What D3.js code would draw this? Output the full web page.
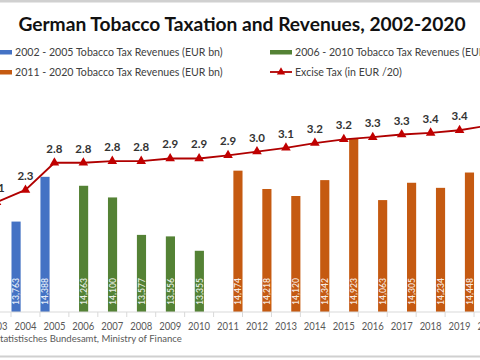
<!DOCTYPE html>
<html><head><meta charset="utf-8">
<script src="https://cdn.jsdelivr.net/npm/d3@7"></script>
<style>html,body{margin:0;padding:0;background:#fff;overflow:hidden}svg{display:block}</style>
</head><body>
<script>
const years = ["2002","2003","2004","2005","2006","2007","2008","2009","2010","2011","2012","2013","2014","2015","2016","2017","2018","2019","2020"];
const revenues = [13.778,14.094,13.763,14.388,14.263,14.100,13.577,13.556,13.355,14.474,14.218,14.120,14.342,14.923,14.063,14.305,14.234,14.448,14.651];
const revLabels = ["13,778","14,094","13,763","14,388","14,263","14,100","13,577","13,556","13,355","14,474","14,218","14,120","14,342","14,923","14,063","14,305","14,234","14,448","14,651"];
const periodOf = ["A","A","A","A","B","B","B","B","B","C","C","C","C","C","C","C","C","C","C"];
const seriesKeys = ["A","B","C"];
const seriesNames = ["2002 - 2005 Tobacco Tax Revenues (EUR bn)","2006 - 2010 Tobacco Tax Revenues (EUR bn)","2011 - 2020 Tobacco Tax Revenues (EUR bn)"];
const exciseTax = [1.92,2.06,2.29,2.80,2.80,2.83,2.83,2.88,2.88,2.94,3.01,3.08,3.17,3.24,3.28,3.33,3.36,3.41,3.50];
const exciseLabels = ["1.9","2.1","2.3","2.8","2.8","2.8","2.8","2.9","2.9","2.9","3.0","3.1","3.2","3.2","3.3","3.3","3.4","3.4","3.5"];
const lineName = "Excise Tax (in EUR /20)";
const title = "German Tobacco Taxation and Revenues, 2002-2020";
const sourcePrefix = "Source: S";
const sourceRest = "tatistisches Bundesamt, Ministry of Finance";

const W = 480, H = 360;
const colors = {A:"#4472C4", B:"#548235", C:"#C55A11"};
const lineColor = "#B00000";
const font = "Lato, 'Open Sans', sans-serif";

const svg = d3.select("body").append("svg").attr("width", W).attr("height", H);
svg.append("rect").attr("width", W).attr("height", H).attr("fill", "#fff");
svg.append("rect").attr("x",0).attr("y",0).attr("width",W).attr("height",2.5).attr("fill","#d0d0d0");
svg.append("rect").attr("x",0).attr("y",355.5).attr("width",W).attr("height",2).attr("fill","#d0d0d0");

const plotTop = 80, baseY = 312;
const x = d3.scaleBand().domain(years).range([11 - 2*28.94, 11 + 17*28.94]).paddingInner(0).paddingOuter(0);
const xs = d3.scaleBand().domain(seriesKeys).range([0, x.bandwidth()]).padding(0);
const y = d3.scaleLinear().domain([12.5, 12.5 + (baseY - plotTop)/71.6]).range([baseY, plotTop]);
const y2 = d3.scaleLinear().domain([0, (baseY - plotTop)/53.3]).range([baseY, plotTop]);

// Title
svg.append("text").attr("x", 242).attr("y", 31).attr("text-anchor","middle")
  .attr("font-family", font).attr("font-weight","bold").attr("font-size", 19.2).attr("fill","#111")
  .text(title);

// Legend
const leg = [
  {x:-10, y:52, type:"bar", color:colors.A, label:seriesNames[0]},
  {x:270, y:52, type:"bar", color:colors.B, label:seriesNames[1]},
  {x:-10, y:72, type:"bar", color:colors.C, label:seriesNames[2]},
  {x:270, y:72, type:"line", color:lineColor, label:lineName}
];
leg.forEach(d => {
  const g = svg.append("g");
  if (d.type === "bar") {
    g.append("rect").attr("x", d.x).attr("y", d.y - 2).attr("width", 22).attr("height", 4.5).attr("fill", d.color);
  } else {
    g.append("line").attr("x1", d.x).attr("x2", d.x + 22).attr("y1", d.y).attr("y2", d.y).attr("stroke", d.color).attr("stroke-width", 1.8);
    g.append("path").attr("d", d3.symbol(d3.symbolTriangle, 30)()).attr("transform", `translate(${d.x + 11},${d.y})`).attr("fill", "#C00000");
  }
  g.append("text").attr("x", d.x + 25).attr("y", d.y + 4).attr("font-family", font).attr("font-size", 10.6).attr("fill", "#404040").text(d.label);
});

// Bars
const bars = svg.append("g");
years.forEach((yr, i) => {
  const bx = x(yr) + xs(periodOf[i]);
  const bw = xs.bandwidth();
  bars.append("rect").attr("x", bx + 0.5).attr("y", y(revenues[i])).attr("width", bw - 0.5)
    .attr("height", baseY - y(revenues[i])).attr("fill", colors[periodOf[i]]);
  bars.append("text").attr("transform", `translate(${bx + bw/2 + 3.5},${baseY - 7}) rotate(-90)`)
    .attr("font-family", font).attr("font-size", 10).attr("font-weight", "600").attr("fill", "#fff").attr("fill-opacity", 0.88)
    .attr("textLength", 27).attr("lengthAdjust", "spacingAndGlyphs")
    .text(revLabels[i]);
});

// X axis
const axis = svg.append("g").attr("transform", `translate(0,${baseY})`);
axis.append("line").attr("x1", x.range()[0]).attr("x2", x.range()[1]).attr("stroke", "#d9d9d9").attr("stroke-width", 1);
years.forEach(yr => {
  axis.append("line").attr("x1", x(yr)).attr("x2", x(yr)).attr("y1", 0).attr("y2", 5).attr("stroke", "#d9d9d9");
  axis.append("text").attr("x", x(yr) + x.bandwidth()/2 - 11).attr("y", 18)
    .attr("font-family", font).attr("font-size", 11.5).attr("fill", "#595959")
    .attr("textLength", 22).attr("lengthAdjust", "spacingAndGlyphs").text(yr);
});

// Line
const cx = yr => x(yr) + x.bandwidth()/2;
const line = d3.line().x((d, i) => cx(years[i])).y(d => y2(d));
svg.append("path").datum(exciseTax).attr("d", line).attr("fill", "none").attr("stroke", lineColor).attr("stroke-width", 1.8);
svg.selectAll(".mk").data(exciseTax).enter().append("path")
  .attr("d", d3.symbol(d3.symbolTriangle, 40)())
  .attr("transform", (d, i) => `translate(${cx(years[i])},${y2(d)})`).attr("fill", "#C00000");
svg.selectAll(".lb").data(exciseTax).enter().append("text")
  .attr("x", (d, i) => cx(years[i])).attr("y", d => y2(d) - 10).attr("text-anchor", "middle")
  .attr("font-family", font).attr("font-size", 11.5).attr("font-weight", "bold").attr("fill", "#333")
  .text((d, i) => exciseLabels[i]);

// Source (left part cut off by the frame, as in the reference)
const src = svg.append("text").attr("y", 342).attr("font-family", font).attr("font-size", 11).attr("fill", "#595959");
const t1 = src.append("tspan").text(sourcePrefix);
const t2 = src.append("tspan").text(sourceRest);
const wRest = t2.node().getComputedTextLength();
const fs = 11 * 182 / wRest;
src.attr("font-size", fs);
const wPre = t1.node().getComputedTextLength();
src.attr("x", -wPre);
</script>
</body></html>
